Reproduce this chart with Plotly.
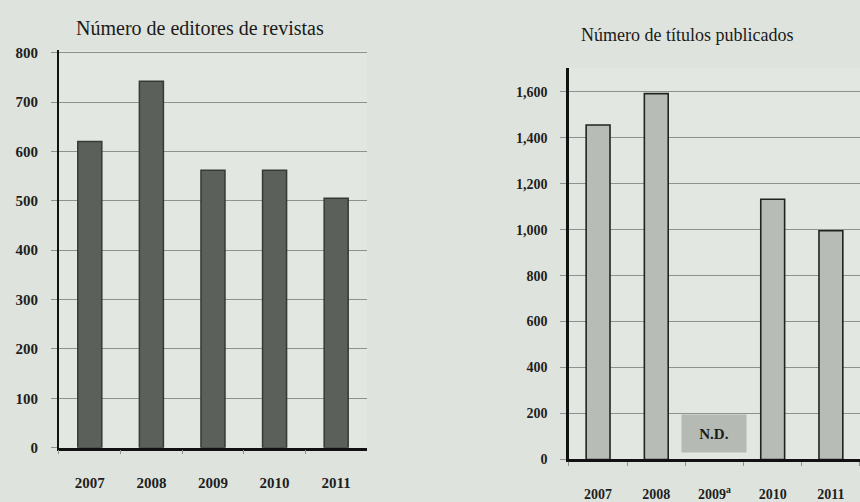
import plotly.graph_objects as go

years = ["2007", "2008", "2009", "2010", "2011"]
years_right = ["2007", "2008", "2009<sup>a</sup>", "2010", "2011"]
editores = [620, 742, 562, 562, 505]
titulos = [1455, 1592, None, 1132, 995]
left_ticks = [0, 100, 200, 300, 400, 500, 600, 700, 800]
right_ticks = [0, 200, 400, 600, 800, 1000, 1200, 1400, 1600]
right_ticklabels = ["0", "200", "400", "600", "800", "1,000", "1,200", "1,400", "1,600"]
title_left = "Número de editores de revistas"
title_right = "Número de títulos publicados"
nd_label = "N.D."

FONT = "Liberation Serif"
PAPER = "#dee3dd"
PLOT = "#e2e7e1"
GRID = "#8e928e"

fig = go.Figure()
fig.add_trace(go.Bar(x=years, y=editores, xaxis="x", yaxis="y",
                     marker=dict(color="#5b605b", line=dict(color="#363a36", width=1.5)),
                     width=0.39, showlegend=False, hoverinfo="x+y"))
fig.add_trace(go.Bar(x=years_right, y=titulos, xaxis="x2", yaxis="y2",
                     marker=dict(color="#b8bcb7", line=dict(color="#222222", width=1.6)),
                     width=0.41, showlegend=False, hoverinfo="x+y"))

tickfont = dict(family=FONT, size=15, color="#1e1e1e", weight="bold")
tickfont2 = dict(family=FONT, size=14, color="#1e1e1e", weight="bold")

fig.update_layout(
    width=860, height=502,
    margin=dict(l=0, r=0, t=0, b=0),
    paper_bgcolor=PAPER, plot_bgcolor=PLOT,
    bargap=0.6,
    xaxis=dict(domain=[0.0686, 0.4267], anchor="y", type="category",
               showline=True, linecolor="#111111", linewidth=2.5,
               ticks="outside", tickson="boundaries", ticklen=4, tickcolor=GRID,
               tickfont=tickfont, ticklabelstandoff=20, showgrid=False),
    yaxis=dict(domain=[0.0872, 0.9068], anchor="x", range=[0, 805],
               tickvals=left_ticks, ticktext=[str(v) for v in left_ticks],
               showline=True, linecolor="#111111", linewidth=2,
               ticks="outside", ticklen=6, tickcolor=GRID,
               showgrid=True, gridcolor=GRID, gridwidth=1,
               tickfont=tickfont, ticklabelstandoff=10, zeroline=False),
    xaxis2=dict(domain=[0.6616, 1.0], anchor="y2", type="category",
                showline=True, linecolor="#111111", linewidth=2.5,
                ticks="outside", tickson="boundaries", ticklen=4, tickcolor=GRID,
                tickfont=tickfont2, ticklabelstandoff=20, showgrid=False),
    yaxis2=dict(domain=[0.0629, 0.8709], anchor="x2", range=[0, 1705],
                tickvals=right_ticks, ticktext=right_ticklabels,
                showline=True, linecolor="#111111", linewidth=2.5,
                ticks="outside", ticklen=6, tickcolor=GRID,
                showgrid=True, gridcolor=GRID, gridwidth=1,
                tickfont=tickfont2, ticklabelstandoff=10, zeroline=False),
    annotations=[
        dict(text=title_left, xref="paper", yref="paper", x=0.233, y=1 - 24 / 502,
             xanchor="center", yanchor="middle", showarrow=False,
             font=dict(family=FONT, size=20, color="#1a1a1a")),
        dict(text=title_right, xref="paper", yref="paper", x=0.799, y=1 - 31 / 502,
             xanchor="center", yanchor="middle", showarrow=False,
             font=dict(family=FONT, size=18, color="#1a1a1a")),
        dict(text="<b>" + nd_label + "</b>", xref="x2", yref="y2", x=years_right[2], y=115,
             xanchor="center", yanchor="middle", showarrow=False,
             bgcolor="#b5bab4", borderpad=0, width=64, height=37,
             font=dict(family=FONT, size=15, color="#1a1a1a")),
    ],
)

post = (
    "document.documentElement.style.margin='0';"
    "document.documentElement.style.overflow='hidden';"
    "document.body.style.margin='0';document.body.style.padding='0';"
    "document.body.style.overflow='hidden';"
)
fig.write_html("out.html", config={"displayModeBar": False}, post_script=post)
